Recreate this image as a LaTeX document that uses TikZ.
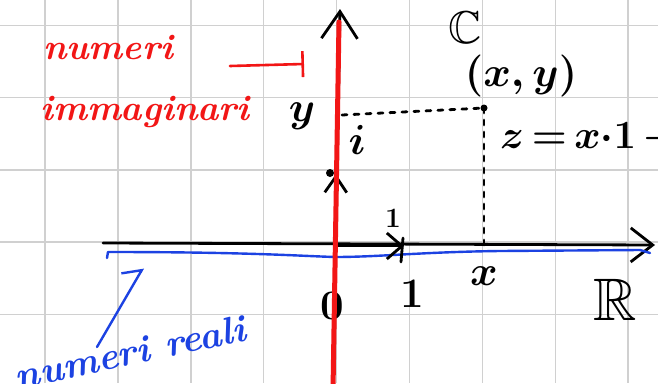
\documentclass[tikz,border=0pt]{standalone}
\usepackage{fix-cm}
\usepackage{amsmath}
\usepackage{amssymb}
\usepackage{xcolor}
\usepackage{tikz}
\usetikzlibrary{arrows.meta, positioning, calc}
\DeclareFontFamily{U}{msb}{}
\DeclareFontShape{U}{msb}{m}{n}{<-> msbm10}{}
\definecolor{inkred}{RGB}{242, 22, 22}
\definecolor{inkblue}{RGB}{28, 66, 226}
\definecolor{gridgray}{RGB}{208, 208, 208}

\begin{document}
\begin{tikzpicture}[
    x=1pt, y=-1pt,
    gridline/.style={draw=gridgray, line width=1.5pt},
    axis/.style={line width=2.8pt, line cap=round, line join=round},
    guide/.style={line width=2.8pt, line cap=round, dash pattern=on 5pt off 7pt},
    realline/.style={draw=inkblue, line width=2.4pt, line cap=round, line join=round},
    redaxis/.style={draw=inkred, line width=5pt, line cap=round},
    redink/.style={draw=inkred, line width=2.6pt, line cap=round},
    blueink/.style={draw=inkblue, line width=2.4pt, line cap=round},
    lab/.style={inner sep=0pt, font=\fontsize{42}{46}\selectfont\boldmath},
    smalllab/.style={inner sep=0pt, font=\fontsize{28}{32}\selectfont\boldmath},
    ink/.style={inner sep=0pt, font=\fontsize{36}{40}\selectfont\bfseries\itshape},
  ]
  \useasboundingbox (0,0) rectangle (658,383);
  \clip (0,0) rectangle (658,383);
  \fill[white] (0,0) rectangle (658,383);

  \foreach \gx in {0,...,8}
    \draw[gridline] ({45+72.9*\gx},0) -- ({45+72.9*\gx},383);
  \foreach \gy in {0,...,4}
    \draw[gridline] (0,{25.5+72.2*\gy}) -- (658,{25.5+72.2*\gy});

  \coordinate (O) at (335,246);
  \coordinate (xstart) at (103,243);
  \coordinate (xend) at (655,245);
  \coordinate (ystart) at (333,390);
  \coordinate (yend) at (340,9);
  \coordinate (one) at (404,246);
  \coordinate (uniti) at (336,174);
  \coordinate (z) at (484,108);
  \coordinate (zfoot) at (484,245);
  \coordinate (yfoot) at (342,115);

  \draw[axis, -{Straight Barb[length=22pt, width=34pt]}] (xstart) -- (xend);
  \draw[axis, -{Straight Barb[length=27pt, width=36pt]}] (ystart) -- (yend);

  \draw[realline] (107,258) -- (108,252)
    .. controls (250,252) and (300,256) .. (335,257)
    .. controls (380,257) and (420,252) .. (500,251)
    -- (640,250) -- (650,253);

  \draw[guide] (yfoot) -- (z);
  \draw[guide] (z) -- (zfoot);
  \fill (z) circle (3.5);

  \draw[axis, -{Straight Barb[length=15pt, width=26pt]}] (O) -- (one);
  \draw[axis] (403,238) -- (401,262);
  \draw[axis, -{Straight Barb[length=16pt, width=22pt]}] (O) -- (uniti);
  \fill (330,173) circle (4);

  \node[lab] (ylab) at (302,116) {$y$};
  \node[lab] (ilab) at (357,140) {$i$};
  \node[lab, font=\fontsize{46}{50}\selectfont] (Cset) at (465,28) {$\mathbb{C}$};
  \node[lab] (zpoint) at (521,76) {$(x,y)$};
  \node[lab, anchor=west, font=\fontsize{40}{44}\selectfont\boldmath] (zform) at (500,138) {$z\,{=}\,x{\cdot}1\,{+}$};
  \node[lab] (zero) at (332,306) {$0$};
  \node[lab] (onelab) at (412,294) {$1$};
  \node[smalllab] (onetop) at (393,218) {$1$};
  \node[lab] (xlab) at (484,276) {$x$};
  \node[lab, font=\fontsize{60}{64}\selectfont] (Rset) at (615,300) {$\mathbb{R}$};

  \draw[redaxis] (339,22) -- (333,390);

  \node[ink, text=inkred] (imtop) at (108,48) {numeri};
  \node[ink, text=inkred] (imbot) at (145,112) {immaginari};
  \coordinate (imfrom) at (230,66);
  \coordinate (imto) at (304,64);
  \draw[redink, -{Bar[width=26pt]}] (imfrom) -- (imto);

  \node[ink, text=inkblue, rotate=12, font=\fontsize{38}{42}\selectfont\bfseries\itshape] (realtxt) at (130,352) {numeri reali};
  \coordinate (refrom) at (97,347);
  \coordinate (reto) at (143,268);
  \draw[blueink, -{Straight Barb[harpoon, length=13pt, width=32pt]}] (refrom) -- (reto);
\end{tikzpicture}
\end{document}
